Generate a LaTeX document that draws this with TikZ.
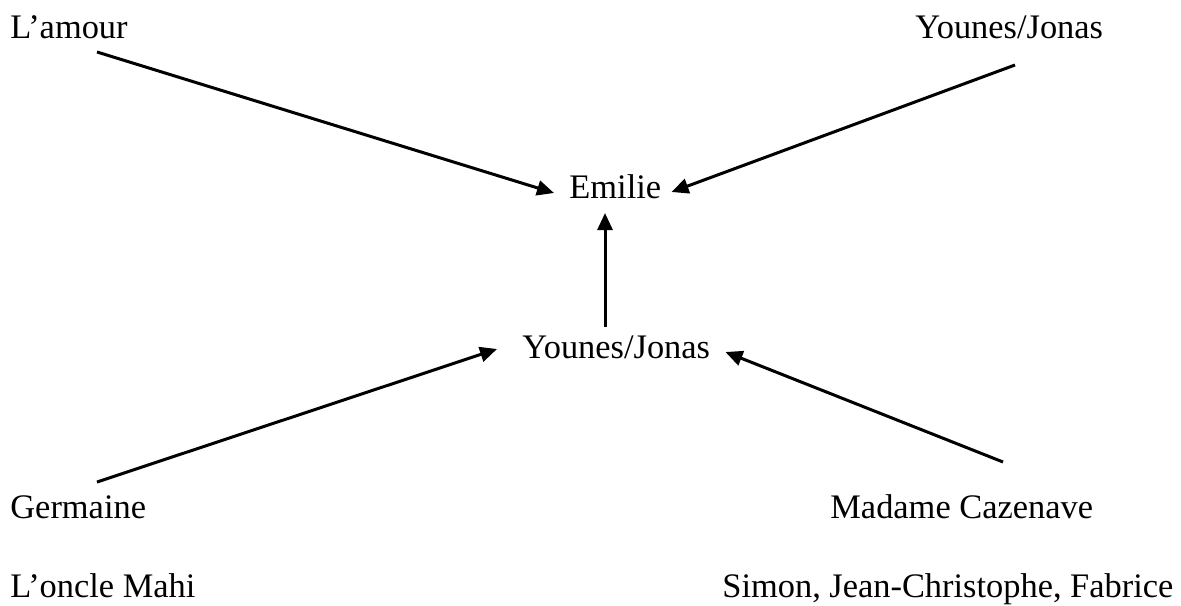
\documentclass[tikz,border=0pt]{standalone}
\usepackage{fontspec}
\setmainfont{Liberation Serif}
\usetikzlibrary{arrows.meta,calc}
\tikzset{
  person/.style={inner sep=0pt,anchor=base west,font=\fontsize{17.2}{20}\selectfont},
  arr/.style={line width=1.5pt,-{Triangle[length=8.5pt,width=7.5pt]}}
}
\begin{document}
\begin{tikzpicture}[x=0.5pt,y=-0.5pt]
        \useasboundingbox (0,0) rectangle (1181,605);
        \node[person] (amour) at (10,38) {L’amour};
        \node[person] (youtop) at (915,38) {Younes/Jonas};
        \node[person] (emilie) at (569,198) {Emilie};
        \node[person] (youmid) at (522,358) {Younes/Jonas};
        \node[person] (germaine) at (10,518) {Germaine};
        \node[person] (cazenave) at (830,518) {Madame Cazenave};
        \node[person] (oncle) at (10,597) {L’oncle Mahi};
        \node[person] (simon) at (722,597) {Simon, Jean-Christophe, Fabrice};
        \draw[arr] ($(amour.base west)+(87,14)$) -- ($(emilie.base west)+(-15,-5)$);
        \draw[arr] ($(youtop.base west)+(100,27)$) -- ($(emilie.base east)+(10,-6)$);
        \draw[arr] ($(youmid.base west)+(83,-31)$) -- ($(emilie.base west)+(36,15)$);
        \draw[arr] ($(germaine.base west)+(87,-36)$) -- ($(youmid.base west)+(-25,-9)$);
        \draw[arr] ($(cazenave.base west)+(173,-56)$) -- ($(youmid.base east)+(15,-6)$);
\end{tikzpicture}
\end{document}
